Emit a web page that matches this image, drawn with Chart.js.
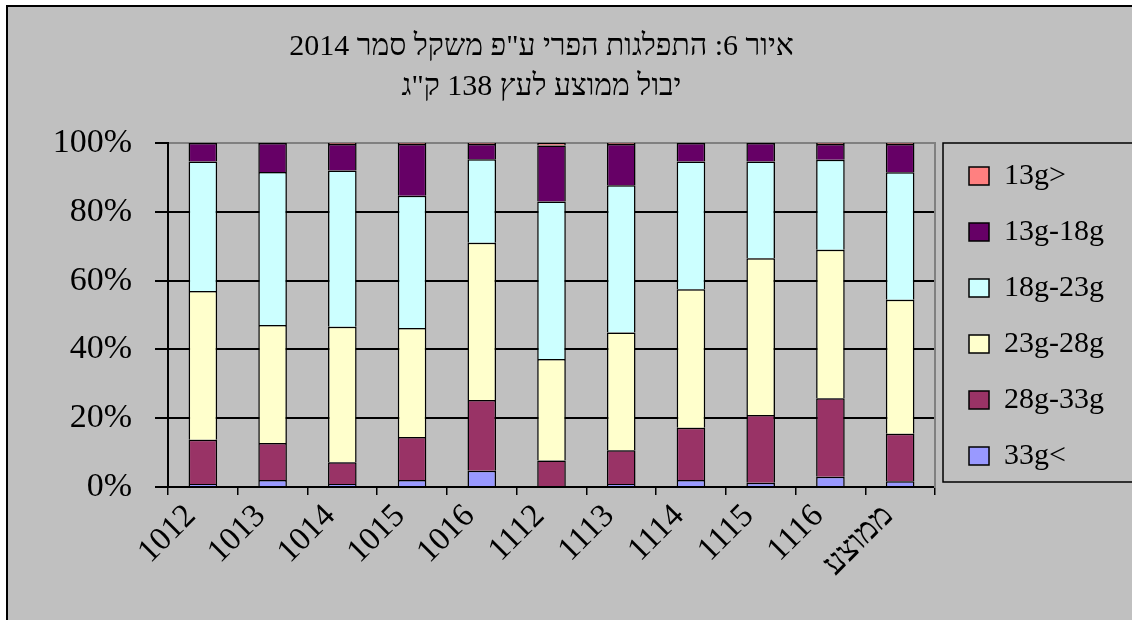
<!DOCTYPE html>
<html><head><meta charset="utf-8">
<script src="https://cdn.jsdelivr.net/npm/chart.js@4.4.1/dist/chart.umd.min.js"></script>
<style>
html,body{margin:0;padding:0;background:#fff;overflow:hidden;width:1132px;height:620px;}
#frame{position:absolute;left:6px;top:5px;width:1124px;height:613px;background:#c0c0c0;border-left:2px solid #000;border-top:2px solid #000;}
#wrap{position:absolute;left:0;top:0;width:1132px;height:620px;}
</style></head><body>
<div id="frame"></div>
<div id="wrap"><canvas id="c" width="1132" height="620"></canvas></div>
<script>
const categories = ['1012','1013','1014','1015','1016','1112','1113','1114','1115','1116','ממוצע'];
const s33gPlus  = [0.9, 2.0, 0.9, 2.0, 4.7, 0.3, 0.9, 2.0, 1.2, 3.0, 1.7];
const s28to33   = [12.8,10.8, 6.3,12.5,20.6, 7.4, 9.8,15.2,19.7,22.8,13.8];
const s23to28   = [43.3,34.3,39.4,31.7,45.7,29.5,34.2,40.3,45.6,43.2,38.9];
const s18to23   = [37.6,44.5,45.4,38.5,24.3,45.8,42.8,37.1,28.1,26.1,37.1];
const s13to18   = [ 5.4, 8.4, 7.7,15.0, 4.4,16.3,12.0, 5.4, 5.4, 4.6, 8.2];
const s13gMinus = [ 0.0, 0.0, 0.3, 0.3, 0.3, 0.7, 0.3, 0.0, 0.0, 0.3, 0.3];
const seriesLabels = ['33g<','28g-33g','23g-28g','18g-23g','13g-18g','13g>'];
const seriesData = [s33gPlus, s28to33, s23to28, s18to23, s13to18, s13gMinus];
const seriesColors = ['#9999FF','#993366','#FFFFCC','#CCFFFF','#660066','#FF8080'];
const yTickStep = 20;
const titleLines = ['\u202Bאיור 6: התפלגות הפרי ע"פ משקל סמר 2014\u202C', '\u202Bיבול ממוצע לעץ 138 ק"ג\u202C'];

const FAM = '"Liberation Serif", "Times New Roman", serif';

const legendBox = {
  id: 'legendBox',
  afterDraw(chart) {
    const ca = chart.chartArea, c = chart.ctx;
    c.save();
    c.strokeStyle = '#000';
    c.lineWidth = 1.5;
    c.strokeRect(ca.right + 8, ca.top, chart.width + 20, ca.bottom - 5 - ca.top);
    c.restore();
  }
};

new Chart(document.getElementById('c'), {
  type: 'bar',
  data: {
    labels: categories,
    datasets: seriesLabels.map((l, i) => ({
      label: l, data: seriesData[i], backgroundColor: seriesColors[i],
      borderColor: '#000', borderWidth: 1.5, barPercentage: 0.41, categoryPercentage: 1
    }))
  },
  options: {
    responsive: false, animation: false,
    layout: { padding: { left: -31, right: 18, top: 0, bottom: 0 } },
    plugins: {
      title: { display: true, text: titleLines, color: '#000',
        font: { family: FAM, size: 30, weight: 'normal', lineHeight: 40/30 },
        padding: { top: 27, bottom: 36 } },
      legend: { position: 'right', reverse: true, align: 'center',
        title: { display: true, text: '', font: { size: 12, lineHeight: 1 }, padding: 0 },
        labels: { font: { family: FAM, size: 30 }, color: '#000', boxWidth: 20, boxHeight: 18, padding: 26 } },
      tooltip: { enabled: false }
    },
    scales: {
      x: { stacked: true,
        grid: { offset: true, drawOnChartArea: false, drawTicks: true, tickLength: 8, color: '#000', tickColor: '#000', lineWidth: 1.5 },
        border: { color: '#000', width: 2 },
        ticks: { minRotation: 45, maxRotation: 45, font: { family: FAM, size: 33 }, color: '#000', padding: 2, labelOffset: -12 },
        afterFit: s => { s.height = 133; } },
      y: { stacked: true, min: 0, max: 100,
        ticks: { stepSize: yTickStep, callback: v => v + '%', font: { family: FAM, size: 34 }, color: '#000', padding: 23 },
        grid: { color: c => (c.tick && c.tick.value === 100) ? '#808080' : '#000', tickColor: '#000', lineWidth: 2, tickLength: 13 },
        border: { color: '#000', width: 2 },
        afterFit: s => { s.width = 199; } },
      y2: { position: 'right', display: true,
        grid: { drawOnChartArea: false, drawTicks: false },
        ticks: { display: false }, border: { color: '#808080', width: 2 },
        afterFit: s => { s.width = 8; } }
    }
  },
  plugins: [legendBox]
});
</script>
</body></html>
